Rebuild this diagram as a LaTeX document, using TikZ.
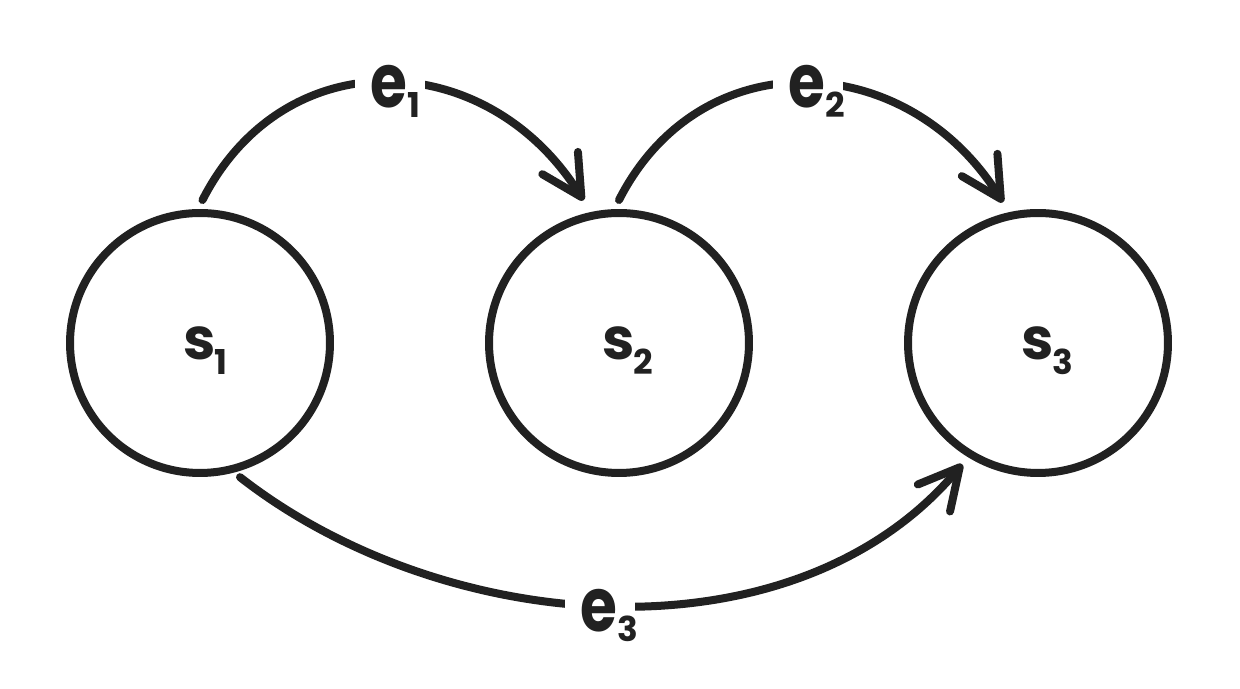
\documentclass[tikz,border=0pt]{standalone}
\usepackage{fontspec}
\usepackage{graphicx}
\setmainfont{Poppins}
\usetikzlibrary{arrows.meta,calc}
\definecolor{ink}{HTML}{212121}
\newlength\upx \setlength\upx{0.02cm}
\newcommand\subfnt{\bfseries\fontsize{19.5}{19.5}\selectfont}
\newcommand\stext[1]{s\rlap{\hspace{-2\upx}\smash{\raisebox{-15\upx}{\subfnt #1}}}}
\newcommand\etext[1]{\scalebox{1}[1.25]{e}\hspace{0\upx}\raisebox{-10\upx}{\subfnt #1}}
\begin{document}
\begin{tikzpicture}[x=0.02cm,y=0.02cm,
 state/.style={circle,draw=ink,line width=0.16cm,minimum size=5.2cm,inner sep=0pt,text=ink,font=\bfseries\fontsize{33}{33}\selectfont},
 edge/.style={draw=ink,line width=0.16cm,line cap=round,-{Straight Barb[round,length=0.8cm,width=0.84cm]}},
 lbox/.style={fill=white,inner sep=0pt,minimum width=1.4cm,minimum height=1.4cm},
 ltext/.style={inner sep=0pt,text=ink,anchor=base west,font=\bfseries\fontsize{34}{34}\selectfont}]
\useasboundingbox (0,0) rectangle (1240,689);
\fill[white] (0,0) rectangle (1240,689);
\node[state] (s1) at (200,346) {\stext{1}};
\node[state] (s2) at (619,346) {\stext{2}};
\node[state] (s3) at (1038,346) {\stext{3}};
\draw[edge] ($(s1)+(89:143)$) .. controls +(63:181) and +(122:181) .. ($(s2)+(104:147)$);
\draw[edge] ($(s2)+(90:143)$) .. controls +(63:181) and +(122:181) .. ($(s3)+(104:145)$);
\draw[edge] ($(s1)+(-73.4:140)$) .. controls +(-38:261) and +(230:261) .. ($(s3)+(238:143)$);
\node[lbox] (b1) at (390,606) {};
\node[ltext] (l1) at (370,581) {\etext{1}};
\node[lbox] (b2) at (808,606) {};
\node[ltext] (l2) at (788,581) {\etext{2}};
\node[lbox] (b3) at (600,82) {};
\node[ltext] (l3) at (580,57) {\etext{3}};
\end{tikzpicture}
\end{document}
